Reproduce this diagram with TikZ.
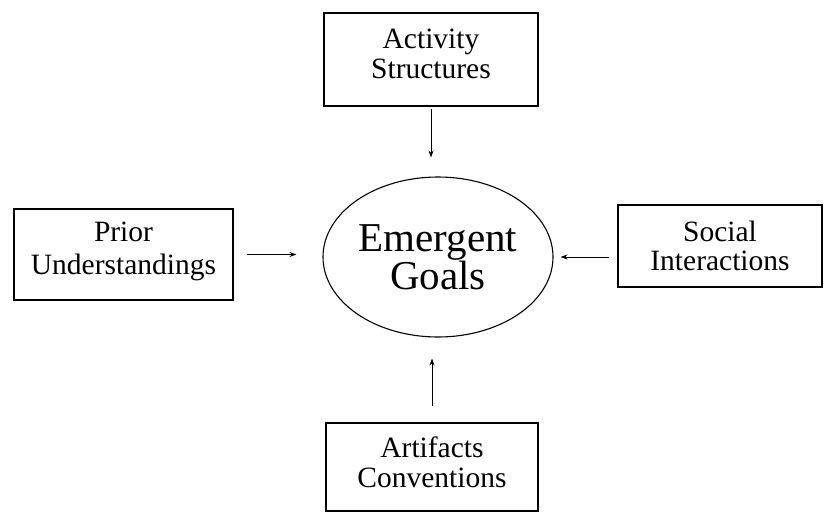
\documentclass[tikz,border=0pt]{standalone}
\usepackage{fontspec}
\setmainfont{Liberation Serif}
\usetikzlibrary{arrows.meta,shapes.geometric}
\begin{document}
\begin{tikzpicture}[x=1pt,y=-1pt,
  box/.style={draw,line width=1.3pt,inner sep=0pt,align=center},
  goalshape/.style={draw,ellipse,line width=1.1pt,inner sep=0pt,align=center,minimum width=230pt,minimum height=160pt,font=\fontsize{41}{37}\selectfont},
  conn/.style={line width=0.9pt,-{Stealth[length=7pt,width=5pt]}}]
\useasboundingbox (0,0) rectangle (827,512);
\node[box,minimum width=214pt,minimum height=93pt,text depth=11pt,font=\fontsize{29.5}{30}\selectfont] (act) at (431,59.5) {Activity\\Structures};
\node[box,minimum width=219pt,minimum height=91pt,text depth=13pt,font=\fontsize{29.5}{33}\selectfont] (prior) at (123.5,254.5) {Prior\\Understandings};
\node[box,minimum width=204pt,minimum height=82pt,font=\fontsize{29.5}{28.5}\selectfont] (soc) at (720,246) {Social\\Interactions};
\node[box,minimum width=212pt,minimum height=88pt,text depth=9pt,font=\fontsize{29.5}{30}\selectfont] (art) at (432,467) {Artifacts\\Conventions};
\node[goalshape] (goal) at (438,257) {Emergent\\Goals};
\draw[conn,shorten <=2pt,shorten >=19pt] (act.south) -- (act.south |- goal.north);
\draw[conn,shorten <=13pt,shorten >=26pt] (prior.east) -- (prior.east -| goal.west);
\draw[conn,shorten <=8pt,shorten >=7pt] (soc.west |- goal.east) -- (goal.east);
\draw[conn,shorten <=16pt,shorten >=21pt] (art.north) -- (art.north |- goal.south);
\end{tikzpicture}
\end{document}
